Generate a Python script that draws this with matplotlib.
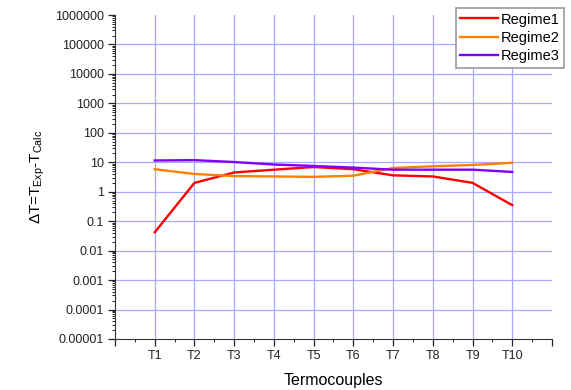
import numpy as np
import matplotlib.pyplot as plt
from matplotlib.ticker import LogLocator, FixedLocator, NullFormatter

plt.rcParams['font.family'] = ['Liberation Sans', 'DejaVu Sans']
plt.rcParams['mathtext.fontset'] = 'custom'
plt.rcParams['mathtext.rm'] = 'Liberation Sans'
plt.rcParams['mathtext.default'] = 'regular'

# data
labels = ['T1', 'T2', 'T3', 'T4', 'T5', 'T6', 'T7', 'T8', 'T9', 'T10']
regime1 = [0.042, 2.0, 4.5, 5.6, 6.9, 5.8, 3.6, 3.3, 2.0, 0.35]
regime2 = [5.8, 4.0, 3.4, 3.3, 3.2, 3.5, 6.4, 7.3, 8.1, 9.6]
regime3 = [11.5, 11.8, 10.2, 8.4, 7.5, 6.6, 5.6, 5.6, 5.6, 4.7]
ytick_labels = ['0.00001', '0.0001', '0.001', '0.01', '0.1', '1', '10',
                '100', '1000', '10000', '100000', '1000000']

x = np.arange(1, len(labels) + 1)

fig = plt.figure(figsize=(5.71, 3.9), dpi=100)
ax = fig.add_axes([0.2014, 0.1308, 0.7653, 0.8307])

ax.plot(x, regime1, color='#ff0000', lw=1.7, label='Regime1', solid_joinstyle='round')
ax.plot(x, regime2, color='#ff8000', lw=1.7, label='Regime2', solid_joinstyle='round')
ax.plot(x, regime3, color='#8000ff', lw=1.7, label='Regime3', solid_joinstyle='round')

ax.set_yscale('log')
ax.set_ylim(1e-5, 1e6)
ax.set_xlim(0, 11)

yt = [10.0 ** k for k in range(-5, 7)]
ax.set_yticks(yt)
ax.set_yticklabels(ytick_labels)
ax.yaxis.set_minor_locator(LogLocator(base=10, subs=np.arange(2, 10), numticks=20))
ax.yaxis.set_minor_formatter(NullFormatter())

ax.set_xticks(np.arange(0, 12))
ax.set_xticklabels([''] + labels + [''])
ax.xaxis.set_minor_locator(FixedLocator(np.arange(0.5, 11, 1)))

ax.tick_params(axis='both', which='major', direction='out', length=5, width=0.9,
               labelsize=9, colors='#222222', pad=3)
ax.tick_params(axis='both', which='minor', direction='out', length=2.5, width=0.6)

for s in ['top', 'right']:
    ax.spines[s].set_visible(False)
for s in ['left', 'bottom']:
    ax.spines[s].set_color('#333333')

# grid
for xv in x:
    ax.axvline(xv, color='#a8a8ff', lw=0.9, zorder=0)
for yv in yt[1:-1]:
    ax.axhline(yv, color='#a8a8ff', lw=0.9, zorder=0)

ax.set_xlabel('Termocouples', fontsize=11.5, labelpad=8)
ax.set_ylabel(r'$\Delta$T=T$_{Exp}$-T$_{Calc}$', fontsize=11, labelpad=6)

leg = ax.legend(loc='upper right', bbox_to_anchor=(1.035, 1.03), fontsize=10.5,
                fancybox=False, framealpha=1, edgecolor='#999999',
                handlelength=2.6, handletextpad=0.2, borderpad=0.3,
                labelspacing=0.3, borderaxespad=0.2)
leg.get_frame().set_linewidth(1.2)

fig.savefig('out.png', dpi=100)
